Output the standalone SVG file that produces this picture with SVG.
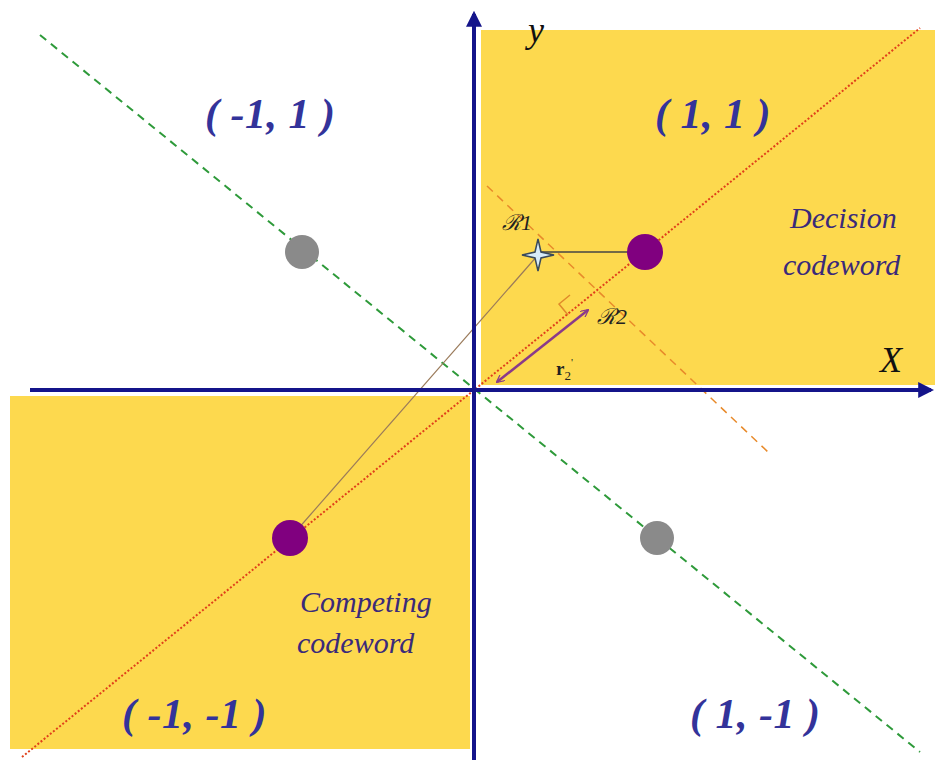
<svg xmlns="http://www.w3.org/2000/svg" width="935" height="760" viewBox="0 0 935 760">
<defs>
<style>
.lbl{font-family:"Liberation Serif","DejaVu Serif",serif;font-style:italic;font-weight:bold;fill:#33339a;font-size:42px;letter-spacing:0.5px}
.word{font-family:"Liberation Serif","DejaVu Serif",serif;font-style:italic;fill:#3a2a7a;font-size:30px}
.ax{font-family:"Liberation Serif","DejaVu Serif",serif;font-style:italic;fill:#111;font-size:36px}
.rr{font-family:"Liberation Serif","DejaVu Serif",serif;font-style:italic;fill:#222;font-size:22px}
.axis{stroke:#14148a;stroke-width:4;fill:none}
</style>
<marker id="axArrow" viewBox="0 0 10 10" refX="8" refY="5" markerWidth="4" markerHeight="4" orient="auto" markerUnits="strokeWidth">
<path d="M0,0 L10,5 L0,10 z" fill="#14148a"/>
</marker>
<marker id="pArrow" viewBox="0 0 10 10" refX="9" refY="5" markerWidth="8" markerHeight="8" orient="auto-start-reverse" markerUnits="userSpaceOnUse">
<path d="M0,0 L10,5 L0,10" fill="none" stroke="#8a3a8a" stroke-width="1.5"/>
</marker>
</defs>
<rect width="935" height="760" fill="#ffffff"/>
<g id="quadrants">
<rect x="481" y="30" width="454" height="355" fill="#fdd94e"/>
<rect x="10" y="396" width="460" height="353" fill="#fdd94e"/>
</g>
<g id="connectors">
<line x1="40" y1="35" x2="920" y2="752" stroke="#2e9a3a" stroke-width="2" stroke-dasharray="8,6"/>
<line x1="22" y1="757" x2="920" y2="28" stroke="#e0401a" stroke-width="2" stroke-dasharray="2,2"/>
<line x1="487" y1="186" x2="768" y2="452" stroke="#e88a2a" stroke-width="1.5" stroke-dasharray="8,6"/>
<line x1="538" y1="255" x2="290" y2="538" stroke="#9a7a5a" stroke-width="1.2"/>
<line x1="538" y1="252" x2="645" y2="252" stroke="#444" stroke-width="1.5"/>
<polyline points="570,295 559,304 568,315" fill="none" stroke="#e08a2a" stroke-width="1.5"/>
<line x1="497" y1="382" x2="588" y2="310" stroke="#8a3a8a" stroke-width="2.5" marker-start="url(#pArrow)" marker-end="url(#pArrow)"/>
<line x1="474" y1="760" x2="474" y2="14" class="axis" marker-end="url(#axArrow)"/>
<line x1="30" y1="390" x2="931" y2="390" class="axis" marker-end="url(#axArrow)"/>
</g>
<g id="node-decision">
<circle cx="645" cy="252" r="18" fill="#80007f"/>
</g>
<g id="node-competing">
<circle cx="290" cy="538" r="18" fill="#80007f"/>
</g>
<g id="node-gray-nw">
<circle cx="302" cy="252" r="17" fill="#8a8a8a"/>
</g>
<g id="node-gray-se">
<circle cx="657" cy="538" r="17" fill="#8a8a8a"/>
</g>
<g id="node-star">
<path d="M538,239 L541,252 L554,255 L541,258 L538,271 L535,258 L522,255 L535,252 Z" fill="#d8ecf8" stroke="#3a4a5a" stroke-width="1.5"/>
</g>
<g id="labels">
<text class="lbl" x="205" y="128">( -1, 1 )</text>
<text class="lbl" x="655" y="128">( 1, 1 )</text>
<text class="lbl" x="122" y="728">( -1, -1 )</text>
<text class="lbl" x="690" y="728">( 1, -1 )</text>
<text class="word" x="790" y="228">Decision</text>
<text class="word" x="783" y="275">codeword</text>
<text class="word" x="300" y="612">Competing</text>
<text class="word" x="297" y="653">codeword</text>
<text class="ax" x="528" y="42">y</text>
<text class="ax" x="880" y="372">X</text>
<text class="rr" x="502" y="230">ℛ1</text>
<text class="rr" x="597" y="324">ℛ2</text>
<text x="556" y="375" font-family="Liberation Serif,serif" font-size="19" font-weight="bold" fill="#222">r<tspan font-size="13" dy="5" font-weight="normal">2</tspan><tspan font-size="11" dy="-14" font-weight="normal">'</tspan></text>
</g>
</svg>
